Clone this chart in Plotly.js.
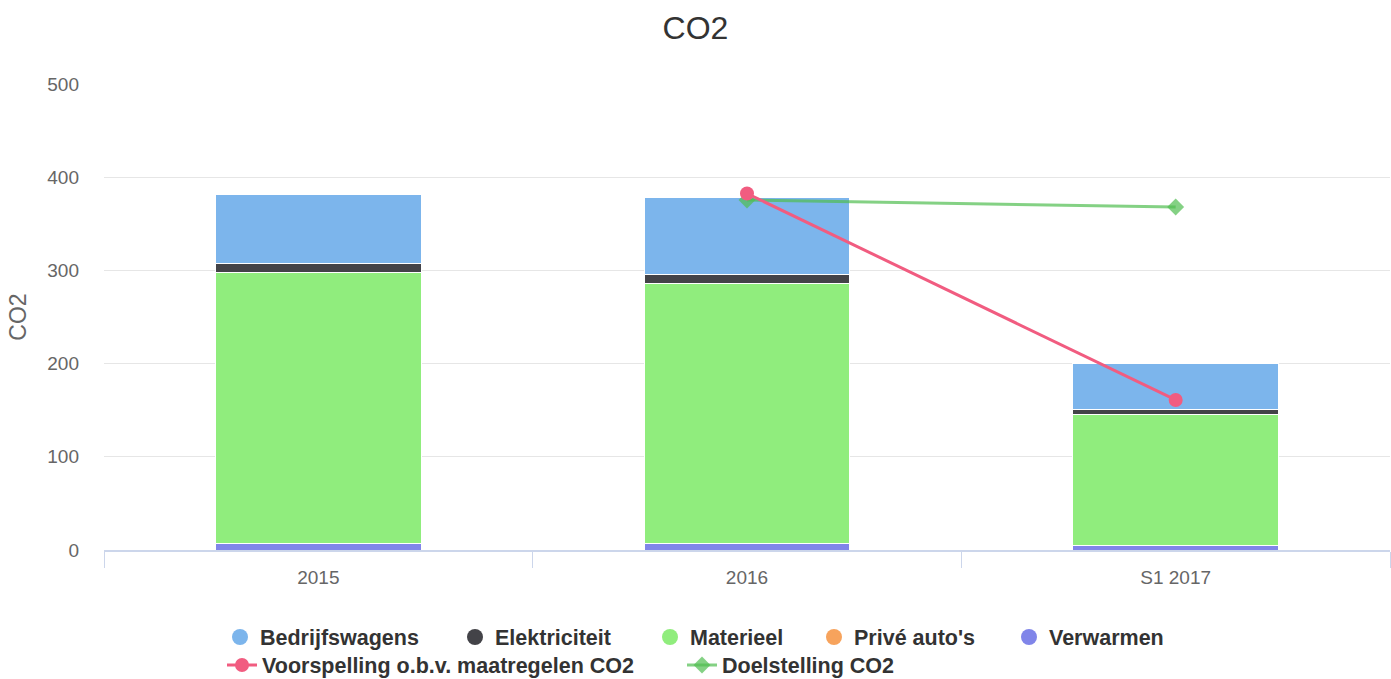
<!DOCTYPE html>
<html>
<head>
<meta charset="utf-8">
<script src="https://cdn.plot.ly/plotly-3.0.1.min.js"></script>
<style>html,body{margin:0;padding:0;background:#fff;}#chart{width:1391px;height:679px;}</style>
</head>
<body>
<div id="chart"></div>
<script>
// ---- data ----
const categories = ['2015', '2016', 'S1 2017'];
const bedrijfswagens = [74.6, 82.5, 50.0];
const elektriciteit = [9.6, 9.5, 5.3];
const materieel = [290.0, 279.0, 140.0];
const priveAutos = [0, 0, 0];
const verwarmen = [7.5, 7.2, 5.0];
const lineCategories = ['2016', 'S1 2017'];
const voorspelling = [382.5, 161.0];
const doelstelling = [375.5, 368.0];
const yTicks = [0, 100, 200, 300, 400, 500];

// ---- styles ----
const FONT = '"Liberation Sans", Arial, Helvetica, sans-serif';
const colors = {
  bedrijfswagens: '#7cb5ec',
  elektriciteit: '#434348',
  materieel: '#90ed7d',
  prive: '#f7a35c',
  verwarmen: '#8085e9',
  voorspelling: '#f15c80',
  doelstelling: 'rgba(80,190,80,0.7)'
};

function barTrace(name, y, color) {
  return {
    type: 'bar', name: name, x: categories, y: y,
    marker: {color: color, line: {color: '#ffffff', width: 1}},
    showlegend: false, hoverinfo: 'x+y+name'
  };
}
function legendDot(name, color, legendId) {
  return {
    type: 'scatter', mode: 'markers', name: name, x: [null], y: [null],
    marker: {symbol: 'circle', size: 16, color: color},
    legend: legendId, showlegend: true, hoverinfo: 'skip'
  };
}

const traces = [
  barTrace('Verwarmen', verwarmen, colors.verwarmen),
  barTrace("Privé auto's", priveAutos, colors.prive),
  barTrace('Materieel', materieel, colors.materieel),
  barTrace('Elektriciteit', elektriciteit, colors.elektriciteit),
  barTrace('Bedrijfswagens', bedrijfswagens, colors.bedrijfswagens),
  {
    type: 'scatter', mode: 'lines+markers', name: 'Doelstelling CO2',
    x: lineCategories, y: doelstelling,
    line: {color: colors.doelstelling, width: 3},
    marker: {symbol: 'diamond', size: 13, color: colors.doelstelling},
    legend: 'legend7'
  },
  {
    type: 'scatter', mode: 'lines+markers', name: 'Voorspelling o.b.v. maatregelen CO2',
    x: lineCategories, y: voorspelling,
    line: {color: colors.voorspelling, width: 3},
    marker: {symbol: 'circle', size: 14, color: colors.voorspelling},
    legend: 'legend6'
  },
  legendDot('Bedrijfswagens', colors.bedrijfswagens, 'legend'),
  legendDot('Elektriciteit', colors.elektriciteit, 'legend2'),
  legendDot('Materieel', colors.materieel, 'legend3'),
  legendDot("Privé auto's", colors.prive, 'legend4'),
  legendDot('Verwarmen', colors.verwarmen, 'legend5')
];

const W = 1391, H = 679;
function legendAt(symCenterX, centerY) {
  return {
    xref: 'container', yref: 'container',
    x: (symCenterX - 18) / W, y: 1 - centerY / H, xanchor: 'left', yanchor: 'middle',
    orientation: 'h', bgcolor: 'rgba(0,0,0,0)', borderwidth: 0,
    font: {family: FONT, size: 21.5, color: '#333333', weight: 'bold'},
    itemclick: false, itemdoubleclick: false
  };
}

const layout = {
  width: W, height: H,
  margin: {l: 104, r: 1, t: 84, b: 129, pad: 0},
  paper_bgcolor: '#ffffff', plot_bgcolor: '#ffffff',
  font: {family: FONT, color: '#666666'},
  title: {
    text: 'CO2', font: {family: FONT, size: 32, color: '#333333'},
    x: 0.5, xanchor: 'center', yref: 'container', y: 1 - 28 / H, yanchor: 'middle'
  },
  barmode: 'stack', bargap: 0.52,
  xaxis: {
    type: 'category', categoryorder: 'array', categoryarray: categories,
    range: [-0.5, 2.5], fixedrange: true, automargin: false,
    showline: true, linecolor: '#ccd6eb', linewidth: 2,
    ticks: 'outside', tickson: 'boundaries', ticklen: 16, tickwidth: 1, tickcolor: '#ccd6eb',
    ticklabelstandoff: 9,
    showgrid: false, zeroline: false,
    tickfont: {family: FONT, size: 19, color: '#666666'}
  },
  yaxis: {
    range: [0, 500], tickvals: yTicks, ticktext: yTicks.map(String), fixedrange: true,
    automargin: false,
    showgrid: true, gridcolor: '#e6e6e6', gridwidth: 1,
    zeroline: false, showline: false, ticks: '', ticklabelstandoff: 24,
    tickfont: {family: FONT, size: 19, color: '#666666'},
    title: {text: 'CO2', font: {family: FONT, size: 23, color: '#666666'}, standoff: 14}
  },
  legend: legendAt(238, 637),
  legend2: legendAt(473, 637),
  legend3: legendAt(668, 637),
  legend4: legendAt(832, 637),
  legend5: legendAt(1027, 637),
  legend6: legendAt(240, 665),
  legend7: legendAt(700, 665),
  showlegend: true,
  hovermode: 'closest'
};

Plotly.newPlot('chart', traces, layout, {displayModeBar: false, responsive: false});
</script>
</body>
</html>
